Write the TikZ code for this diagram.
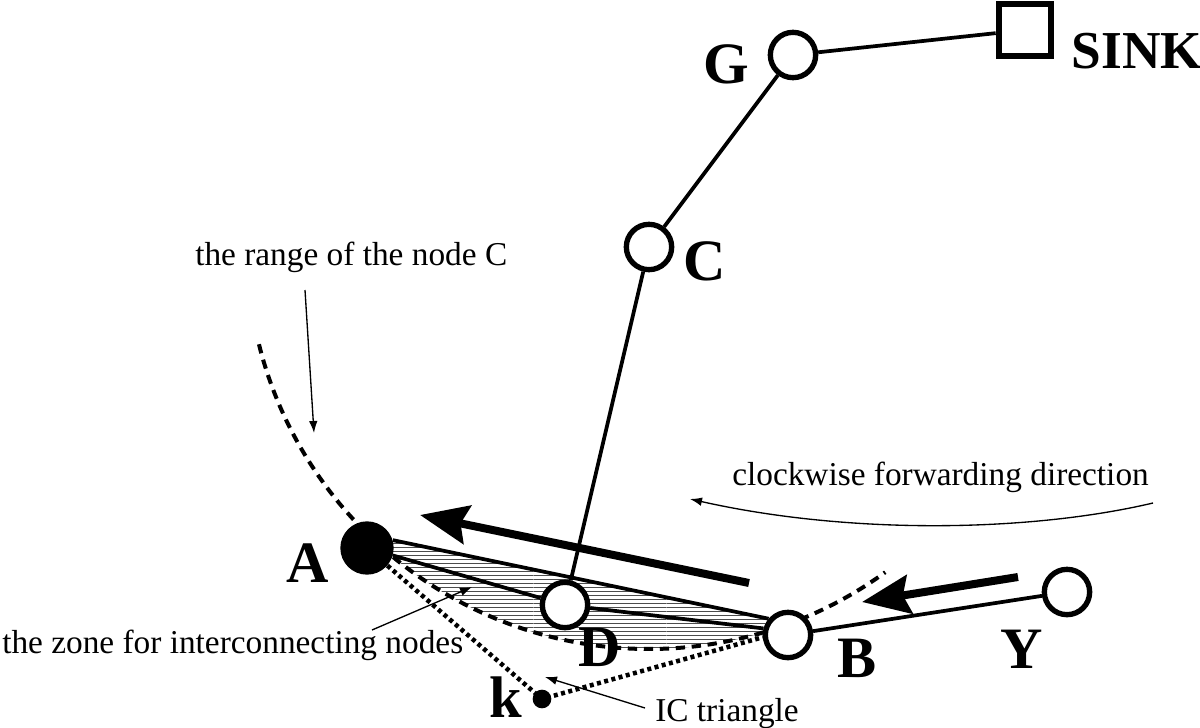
\documentclass[tikz,border=0pt]{standalone}
\usepackage{fontspec}
\setmainfont{Liberation Serif}
\usetikzlibrary{arrows.meta,patterns,backgrounds}
\begin{document}
\begin{tikzpicture}[x=0.75pt,y=-0.75pt,
  vtx/.style={circle,draw,line width=4pt,fill=white,minimum size=34pt,inner sep=0pt},
  sinkbox/.style={rectangle,draw,line width=5pt,fill=white,minimum size=39pt,inner sep=0pt},
  blackdot/.style={circle,fill=black,inner sep=0pt},
  lbl/.style={font=\fontsize{44}{44}\selectfont\bfseries,inner sep=0pt,anchor=base},
  txt/.style={font=\fontsize{25}{25}\selectfont,inner sep=0pt,anchor=base west},
  link/.style={line width=2.8pt},
  rangearc/.style={line width=3pt,dash pattern=on 7pt off 5pt},
  dotline/.style={line width=3.4pt,dash pattern=on 3pt off 2.6pt},
  bigarrow/.style={line width=6pt,-{Stealth[length=36pt,width=29pt,inset=5pt]}},
  thinarrow/.style={line width=1pt,-{Latex[length=9pt,width=6.5pt]}}
]
\useasboundingbox (0,0) rectangle (1200,728);

% nodes
\node[sinkbox] (SINK) at (1025,30) {};
\node[vtx] (G) at (793,55) {};
\node[vtx] (C) at (649,247) {};
\node[vtx] (D) at (565,605) {};
\node[vtx] (B) at (788,635) {};
\node[vtx] (Y) at (1067,592) {};
\node[blackdot,minimum size=40pt] (A) at (367,548) {};
\node[blackdot,minimum size=14pt] (k) at (542,699) {};

% node labels
\node[lbl] (lG) at (726,83) {G};
\node[lbl,font=\fontsize{40}{40}\selectfont\bfseries] (lSINK) at (1137,68) {SINK};
\node[lbl] (lC) at (705,280) {C};
\node[lbl] (lA) at (308,582) {A};
\node[lbl] (lD) at (600,666) {D};
\node[lbl] (lB) at (857,677) {B};
\node[lbl] (lY) at (1022,668) {Y};
\node[lbl] (lk) at (506,717) {k};

% texts
\node[txt] (trange) at (195,265) {the range of the node C};
\node[txt] (tclock) at (732,485) {clockwise forwarding direction};
\node[txt] (tzone) at (2,653) {the zone for interconnecting nodes};
\node[txt] (tic) at (655,721) {IC triangle};

\begin{scope}[on background layer]
  \fill[pattern=horizontal lines,pattern color=black!70]
    (A.17) -- (B.140) -- ([shift={(-74:301.5pt)}]C.center)
    arc[start angle=-74,end angle=-130,radius=301.5pt] -- cycle;
  \draw[rangearc] ([shift={(-166:301.5pt)}]C.center)
    arc[start angle=-166,end angle=-54,radius=301.5pt];
  \draw[link] (SINK) -- (G);
  \draw[link] (G) -- (C);
  \draw[link] (C) -- (D);
  \draw[link] (A) -- (D);
  \draw[link] (D) -- (B.165);
  \draw[link] (B) -- (Y);
  \draw[link] (A.17) -- (B.140);
  \draw[dotline] (A) -- (k.center) -- (B.185);
\end{scope}

% thick arrows
\coordinate (t1) at (749,583); \coordinate (h1) at (420,515);
\draw[bigarrow] (t1) -- (h1);
\coordinate (t2) at (1018,577); \coordinate (h2) at (862,602);
\draw[bigarrow] (t2) -- (h2);

% annotation arrows
\coordinate (r1) at (305,290); \coordinate (r2) at (314,433);
\draw[thinarrow] (r1) -- (r2);
\coordinate (z1) at (372,630); \coordinate (z2) at (472,587);
\draw[thinarrow] (z1) -- (z2);
\coordinate (i1) at (645,708); \coordinate (i2) at (545,677);
\draw[thinarrow] (i1) -- (i2);
\coordinate (cw1) at (1153,503); \coordinate (cw2) at (690,499);
\draw[thinarrow] (cw1) .. controls (1030,532) and (850,535) .. (cw2);
\end{tikzpicture}
\end{document}
